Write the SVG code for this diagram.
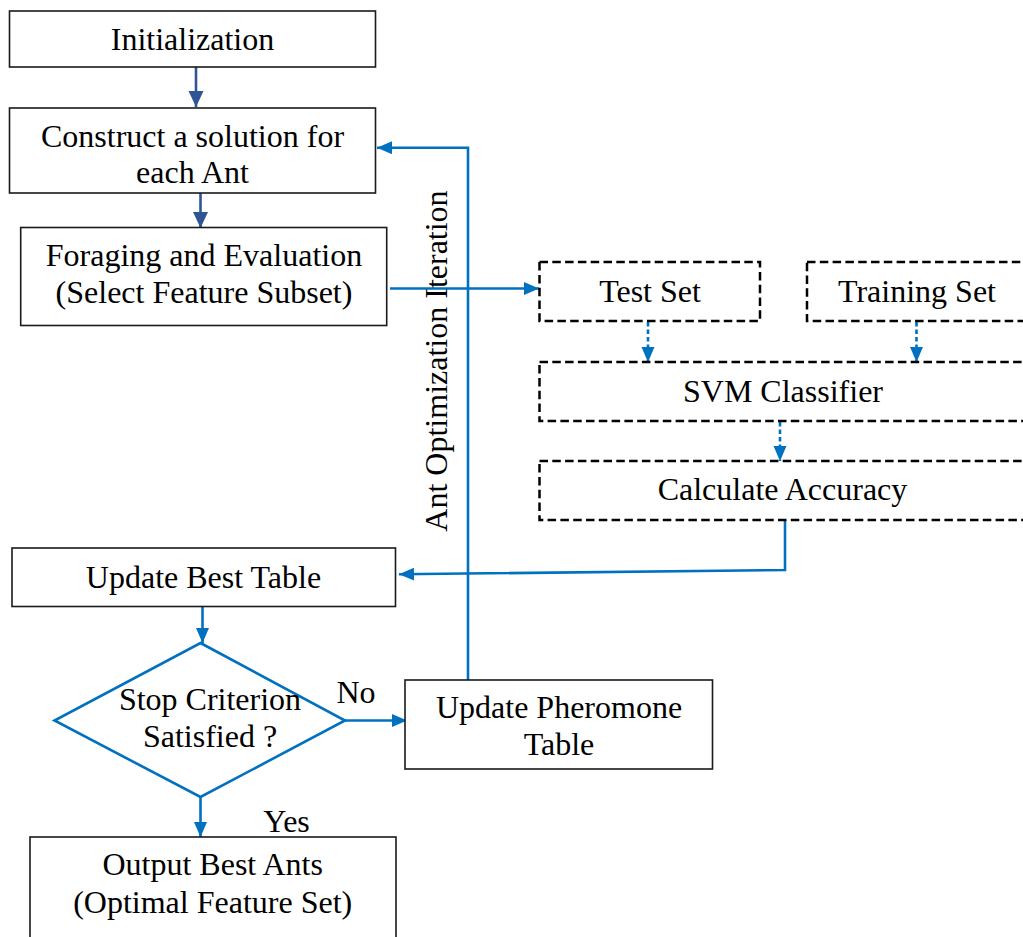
<svg xmlns="http://www.w3.org/2000/svg" width="1023" height="937" viewBox="0 0 1023 937">
  <style>
    text { font-family: "Liberation Serif", "Times New Roman", serif; font-size: 32px; fill: #000; text-anchor: middle; }
    .box { fill: #fff; stroke: #1a1a1a; stroke-width: 1.6; }
    .dbox { fill: none; stroke: #000; stroke-width: 2.5; stroke-dasharray: 8.5 4.3; }
    .diamond { fill: #fff; stroke: #0070C0; stroke-width: 2.6; }
    .flow { fill: none; stroke: #0070C0; stroke-width: 2.6; }
    .flow-dark { fill: none; stroke: #2F5597; stroke-width: 2.6; }
    .flow-dash { fill: none; stroke: #0070C0; stroke-width: 2.6; stroke-dasharray: 4.5 3; }
  </style>
  <defs>
    <marker id="arrow" markerUnits="userSpaceOnUse" markerWidth="16" markerHeight="14" refX="15" refY="6.5" orient="auto">
      <path d="M0,0 L15,6.5 L0,13 z" fill="#0070C0"/>
    </marker>
    <marker id="arrow-dark" markerUnits="userSpaceOnUse" markerWidth="17" markerHeight="16" refX="16" refY="7.5" orient="auto">
      <path d="M0,0 L16,7.5 L0,15 z" fill="#2F5597"/>
    </marker>
  </defs>

  <rect width="1023" height="937" fill="#fff"/>

  <!-- connectors -->
  <g id="connectors">
    <line class="flow-dark" x1="196" y1="67" x2="196" y2="107" marker-end="url(#arrow-dark)"/>
    <line class="flow-dark" x1="200.5" y1="193" x2="200.5" y2="228" marker-end="url(#arrow-dark)"/>
    <line class="flow" x1="390" y1="288.5" x2="539" y2="288.5" marker-end="url(#arrow)"/>
    <line class="flow-dash" x1="648" y1="322" x2="648" y2="362" marker-end="url(#arrow)"/>
    <line class="flow-dash" x1="916.5" y1="322" x2="916.5" y2="362" marker-end="url(#arrow)"/>
    <line class="flow-dash" x1="780" y1="422" x2="780" y2="461" marker-end="url(#arrow)"/>
    <polyline class="flow" points="785,520 785,570 399,574.3" marker-end="url(#arrow)"/>
    <line class="flow" x1="202.5" y1="607" x2="202.5" y2="643" marker-end="url(#arrow)"/>
    <line class="flow" x1="345" y1="720.5" x2="407" y2="720.5" marker-end="url(#arrow)"/>
    <line class="flow" x1="200.5" y1="797" x2="200.5" y2="837" marker-end="url(#arrow)"/>
    <polyline class="flow" points="468,680 468,147.7 377,147.7" marker-end="url(#arrow)"/>
  </g>

  <g id="loop-label">
    <text transform="translate(447,361) rotate(-90)">Ant Optimization Iteration</text>
  </g>

  <g id="initialization">
    <rect class="box" x="9.5" y="11" width="366" height="56"/>
    <text x="192.5" y="50">Initialization</text>
  </g>

  <g id="construct">
    <rect class="box" x="9.5" y="108" width="366" height="85"/>
    <text x="192.5" y="147">Construct a solution for</text>
    <text x="192.5" y="183">each Ant</text>
  </g>

  <g id="foraging">
    <rect class="box" x="20.7" y="227.5" width="366" height="98"/>
    <text x="204" y="266">Foraging and Evaluation</text>
    <text x="204" y="303">(Select Feature Subset)</text>
  </g>

  <g id="test-set">
    <rect class="dbox" x="539.5" y="262" width="220.5" height="59"/>
    <text x="650" y="302">Test Set</text>
  </g>

  <g id="training-set">
    <rect class="dbox" x="807" y="262" width="240" height="59"/>
    <text x="917" y="302">Training Set</text>
  </g>

  <g id="svm-classifier">
    <rect class="dbox" x="539.5" y="362" width="510" height="59"/>
    <text x="783" y="402">SVM Classifier</text>
  </g>

  <g id="calculate-accuracy">
    <rect class="dbox" x="539.5" y="461" width="510" height="59"/>
    <text x="782.5" y="500">Calculate Accuracy</text>
  </g>

  <g id="update-best-table">
    <rect class="box" x="12" y="548" width="383.5" height="58.5"/>
    <text x="203.5" y="588">Update Best Table</text>
  </g>

  <g id="stop-criterion">
    <polygon class="diamond" points="200.5,643 345,720.5 200.5,797 54.5,720.5"/>
    <text x="210" y="710">Stop Criterion</text>
    <text x="210" y="747">Satisfied ?</text>
    <text x="356" y="703">No</text>
    <text x="286.5" y="832">Yes</text>
  </g>

  <g id="update-pheromone">
    <rect class="box" x="405" y="680" width="307.5" height="89"/>
    <text x="559" y="718">Update Pheromone</text>
    <text x="559" y="755">Table</text>
  </g>

  <g id="output-best">
    <rect class="box" x="30" y="837" width="366" height="110"/>
    <text x="212.7" y="875">Output Best Ants</text>
    <text x="212.7" y="913">(Optimal Feature Set)</text>
  </g>
</svg>
